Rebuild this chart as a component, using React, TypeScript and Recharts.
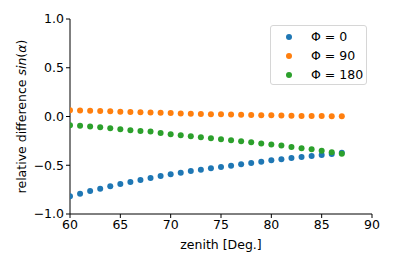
import React from "react";
import { ScatterChart, Scatter, XAxis, YAxis, Legend } from "recharts";

const zenith = [60, 61, 62, 63, 64, 65, 66, 67, 68, 69, 70, 71, 72, 73, 74, 75, 76, 77, 78, 79, 80, 81, 82, 83, 84, 85, 86, 87];

const phi0 = [
  -0.819, -0.792, -0.764, -0.74, -0.716, -0.693, -0.672, -0.651, -0.631, -0.61,
  -0.593, -0.576, -0.559, -0.545, -0.531, -0.518, -0.504, -0.49, -0.477, -0.463,
  -0.449, -0.439, -0.425, -0.415, -0.405, -0.394, -0.384, -0.372,
];

const phi90 = [
  0.065, 0.062, 0.059, 0.056, 0.053, 0.05, 0.047, 0.044, 0.041, 0.038,
  0.035, 0.032, 0.029, 0.026, 0.024, 0.022, 0.02, 0.018, 0.016, 0.014,
  0.012, 0.01, 0.008, 0.006, 0.005, 0.004, 0.003, 0.002,
];

const phi180 = [
  -0.089, -0.096, -0.103, -0.11, -0.12, -0.13, -0.141, -0.148, -0.154, -0.168,
  -0.182, -0.192, -0.202, -0.213, -0.223, -0.233, -0.243, -0.254, -0.264, -0.278,
  -0.288, -0.298, -0.312, -0.326, -0.336, -0.35, -0.367, -0.381,
];

const seriesNames = ["Φ = 0", "Φ = 90", "Φ = 180"];
const colors = ["#1f77b4", "#ff7f0e", "#2ca02c"];
const xTicks = [60, 65, 70, 75, 80, 85, 90];
const yTicks = [-1, -0.5, 0, 0.5, 1];

const series = [phi0, phi90, phi180].map((vals) =>
  zenith.map((z, i) => ({ x: z, y: vals[i] }))
);

const FONT = "DejaVu Sans, sans-serif";
const FS = 12.5;

const dot = (color: string) => (props: any) =>
  <circle cx={props.cx} cy={props.cy} r={3} fill={color} />;

const fmtY = (v: number) => v.toFixed(1).replace("-", "\u2212");

function LegendBox() {
  return (
    <div
      style={{
        width: 97,
        height: 60,
        border: "1px solid #d6d6d6",
        borderRadius: 3,
        background: "rgba(255,255,255,0.8)",
        fontFamily: FONT,
        fontSize: FS,
        boxSizing: "border-box",
        paddingTop: 1,
        textAlign: "left",
      }}
    >
      {seriesNames.map((n, i) => (
        <div key={n} style={{ height: 19, display: "flex", alignItems: "center" }}>
          <span
            style={{
              display: "inline-block",
              width: 6,
              height: 6,
              borderRadius: 3,
              background: colors[i],
              marginLeft: 15,
              marginRight: 19,
            }}
          />
          <span>{n}</span>
        </div>
      ))}
    </div>
  );
}

function YLabel(props: any) {
  const { viewBox } = props;
  const cx = 21;
  const cy = viewBox.y + viewBox.height / 2;
  return (
    <text
      x={cx}
      y={cy}
      transform={`rotate(-90, ${cx}, ${cy})`}
      textAnchor="middle"
      dominantBaseline="central"
      fontFamily={FONT}
      fontSize={FS}
      fill="#000"
    >
      relative difference <tspan fontStyle="italic">sin</tspan>(<tspan fontStyle="italic">α</tspan>)
    </text>
  );
}

export default function App() {
  return (
    <div style={{ position: "absolute", left: 0, top: 0, background: "#fff" }}>
      <ScatterChart
        width={395}
        height={263}
        margin={{ top: 19, right: 23, bottom: 0, left: 10 }}
      >
        <XAxis
          xAxisId="b"
          type="number"
          dataKey="x"
          domain={[60, 90]}
          ticks={xTicks}
          height={49}
          tickSize={4}
          stroke="#000"
          tick={{ fill: "#000", fontSize: FS, fontFamily: FONT }}
          tickLine={{ stroke: "#000" }}
          label={{
            value: "zenith [Deg.]",
            position: "insideBottom",
            offset: 14,
            fill: "#000",
            fontSize: FS,
            fontFamily: FONT,
          }}
          allowDataOverflow
        />
        <XAxis
          xAxisId="t"
          orientation="top"
          type="number"
          dataKey="x"
          domain={[60, 90]}
          height={0}
          tick={false}
          tickLine={false}
          stroke="#000"
        />
        <YAxis
          yAxisId="l"
          type="number"
          dataKey="y"
          domain={[-1, 1]}
          ticks={yTicks}
          width={60}
          tickSize={4}
          tickFormatter={fmtY}
          stroke="#000"
          tick={{ fill: "#000", fontSize: FS, fontFamily: FONT }}
          tickLine={{ stroke: "#000" }}
          label={<YLabel />}
          allowDataOverflow
        />
        <YAxis
          yAxisId="r"
          orientation="right"
          type="number"
          dataKey="y"
          domain={[-1, 1]}
          width={0}
          tick={false}
          tickLine={false}
          stroke="#000"
        />
        <Legend
          layout="vertical"
          align="center"
          verticalAlign="middle"
          content={<LegendBox />}
          wrapperStyle={{ position: "absolute", left: 270, top: 25, width: 97, height: 60 }}
        />
        {series.map((d, i) => (
          <Scatter
            key={seriesNames[i]}
            name={seriesNames[i]}
            data={d}
            xAxisId="b"
            yAxisId="l"
            fill={colors[i]}
            shape={dot(colors[i])}
            isAnimationActive={false}
          />
        ))}
      </ScatterChart>
    </div>
  );
}
